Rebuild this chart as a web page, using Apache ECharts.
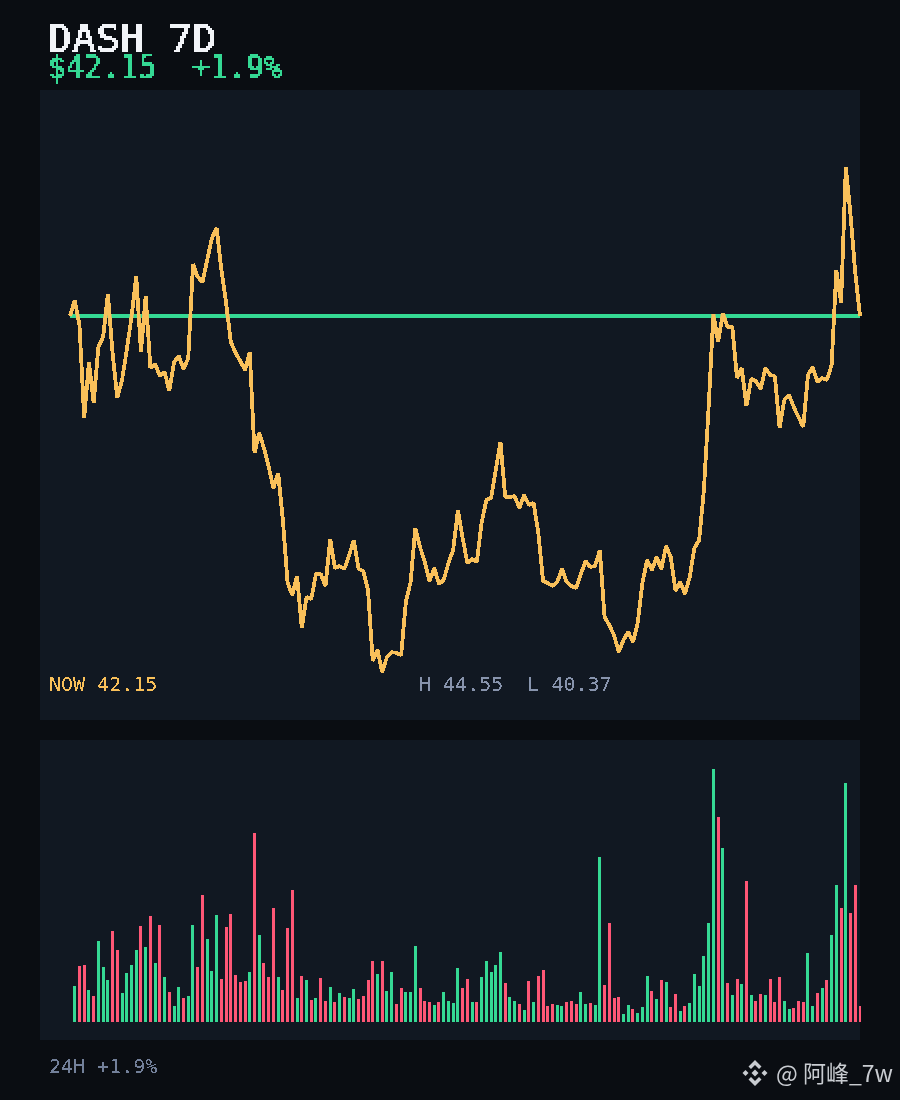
<!DOCTYPE html>
<html><head><meta charset="utf-8">
<script src="https://cdn.jsdelivr.net/npm/echarts@6/dist/echarts.min.js"></script>
<style>
html,body{margin:0;padding:0;background:#0a0d12;width:900px;height:1100px;overflow:hidden}
.layer{position:absolute;left:0;top:0;width:900px;height:1100px}
#crisp{filter:url(#hard)}
#big{filter:url(#bold)}
#big canvas{image-rendering:pixelated}
</style></head><body>
<svg width="0" height="0" style="position:absolute"><filter id="hard" color-interpolation-filters="sRGB" x="0" y="0" width="100%" height="100%"><feComponentTransfer><feFuncA type="discrete" tableValues="0 1"/></feComponentTransfer></filter><filter id="bold" color-interpolation-filters="sRGB" x="0" y="0" width="100%" height="100%"><feComponentTransfer><feFuncA type="discrete" tableValues="0 1 1"/></feComponentTransfer></filter></svg>
<div id="base" class="layer"></div>
<div id="crisp" class="layer"></div>
<div id="big" class="layer"></div>
<script>
const titleText = 'DASH 7D';
const priceText = '$42.15';
const changeText = '+1.9%';
const nowText = 'NOW 42.15';
const rangeText = 'H 44.55  L 40.37';
const footerText = '24H +1.9%';
const watermarkText = '@ 阿峰_7w';
const hours = Array.from({length:168},(_,i)=>String(i));
const prices = [
43.84,44.00,43.75,42.82,43.38,42.97,43.53,43.63,44.06,43.47,
43.02,43.20,43.50,43.83,44.24,43.48,44.04,43.32,43.36,43.24,
43.28,43.09,43.38,43.44,43.31,43.42,44.36,44.23,44.18,44.40,
44.62,44.72,44.30,43.97,43.58,43.47,43.39,43.30,43.48,42.47,
42.67,42.52,42.33,42.12,42.27,41.80,41.17,41.05,41.24,40.72,
41.03,41.01,41.26,41.26,41.14,41.61,41.32,41.34,41.31,41.45,
41.60,41.31,41.29,41.10,40.39,40.50,40.28,40.43,40.48,40.47,
40.45,40.98,41.18,41.72,41.53,41.38,41.19,41.32,41.16,41.20,
41.37,41.50,41.90,41.62,41.37,41.41,41.38,41.77,42.00,42.02,
42.30,42.58,42.03,42.03,42.04,41.92,42.05,41.95,41.97,41.67,
41.19,41.17,41.14,41.18,41.31,41.18,41.14,41.12,41.26,41.39,
41.33,41.34,41.50,40.83,40.75,40.65,40.48,40.60,40.68,40.58,
40.77,41.17,41.40,41.30,41.43,41.31,41.54,41.43,41.09,41.18,
41.06,41.23,41.52,41.60,42.10,42.93,43.86,43.58,43.87,43.73,
43.73,43.22,43.32,42.94,43.21,43.19,43.11,43.32,43.25,43.24,
42.72,43.00,43.05,42.93,42.83,42.73,43.25,43.33,43.18,43.22,
43.20,43.35,44.30,43.97,45.33,44.85,44.27,43.84];
const referencePrice = 43.84;
const volumes = [
36,56,57,32,26,81,55,42,91,72,
29,49,57,72,96,75,106,59,97,45,
30,16,35,24,26,97,55,127,83,51,
107,43,95,108,47,40,41,50,189,87,
59,45,114,45,32,94,132,24,46,42,
22,24,44,21,35,20,29,25,24,33,
23,26,42,61,48,61,31,50,18,34,
30,30,76,34,21,20,17,20,30,21,
19,54,34,43,20,20,45,61,50,57,
70,39,25,21,18,12,41,20,46,52,
16,18,17,16,20,21,18,30,18,19,
17,165,37,99,24,25,8,17,13,9,
15,46,31,23,42,40,15,28,11,16,
19,48,36,66,99,253,205,174,39,27,
43,38,141,27,21,28,27,43,20,45,
21,13,14,21,20,69,16,29,34,42,
87,137,114,239,109,137,16];
const volumeUp = [
1,0,0,1,0,1,1,1,0,0,
1,1,1,1,0,1,0,1,0,1,
0,1,1,0,1,1,0,0,1,1,
1,0,0,0,0,0,0,1,0,1,
0,0,0,1,0,0,0,1,0,1,
0,1,0,0,1,0,1,0,1,1,
0,0,0,0,1,0,1,1,0,0,
1,1,1,0,0,0,1,0,1,1,
1,1,0,0,1,0,1,1,1,1,
1,0,1,1,0,1,0,1,0,0,
0,0,1,1,0,0,0,1,1,0,
1,1,0,0,0,0,1,1,0,1,
1,1,0,1,0,1,0,0,1,0,
1,1,1,1,1,1,0,1,0,1,
0,1,0,1,0,0,1,0,0,0,
1,1,0,0,0,1,1,0,1,0,
1,1,0,1,0,0,0];
const C = {bg:'#0a0d12',panel:'#111822',line:'#f9c05a',green:'#35d994',red:'#ff5776',white:'#f2f4f8',gray:'#8894ad',foot:'#73809a',mark:'#c9ccd1'};
const mono = '"DejaVu Sans Mono", monospace';
const txt = (text,x,y,size,fill)=>({type:'text',x,y,style:{text,fill,font:`${size}px ${mono}`,textVerticalAlign:'middle'}});
const diamond=(cx,cy,r)=>({type:'polygon',shape:{points:[[cx,cy-r],[cx+r,cy],[cx,cy+r],[cx-r,cy]]},style:{fill:C.mark}});

const base = echarts.init(document.getElementById('base'));
base.setOption({animation:false,backgroundColor:C.bg,graphic:[
 {type:'rect',shape:{x:40,y:90,width:820,height:630},style:{fill:C.panel}},
 {type:'rect',shape:{x:40,y:740,width:820,height:300},style:{fill:C.panel}},
 diamond(755,1073,3.5),diamond(745.5,1073,3),diamond(764.5,1073,3),
 {type:'polygon',shape:{points:[[755,1060],[761.5,1066.5],[759,1069],[755,1065],[751,1069],[748.5,1066.5]]},style:{fill:C.mark}},
 {type:'polygon',shape:{points:[[755,1086],[761.5,1079.5],[759,1077],[755,1081],[751,1077],[748.5,1079.5]]},style:{fill:C.mark}},
 {type:'text',x:776,y:1073,style:{text:watermarkText,fill:C.mark,font:'23px "Noto Sans CJK SC", "Noto Sans", sans-serif',textVerticalAlign:'middle'}}
]});

const crisp = echarts.init(document.getElementById('crisp'));
crisp.setOption({animation:false,backgroundColor:'transparent',
 grid:[{left:70,width:790,top:90,height:630},{left:70,width:790,top:740,height:282}],
 xAxis:[{type:'category',gridIndex:0,data:hours,boundaryGap:false,show:false},{type:'category',gridIndex:1,data:hours,boundaryGap:false,show:false}],
 yAxis:[{type:'value',gridIndex:0,min:39.8,max:46.1,show:false},{type:'value',gridIndex:1,min:0,max:282,show:false}],
 series:[
  {type:'line',xAxisIndex:0,yAxisIndex:0,data:hours.map(()=>referencePrice),showSymbol:false,z:2,lineStyle:{color:C.green,width:3},silent:true},
  {type:'line',xAxisIndex:0,yAxisIndex:0,data:prices,showSymbol:false,z:3,lineStyle:{color:C.line,width:3.8,join:'bevel'},silent:true},
  {type:'bar',xAxisIndex:1,yAxisIndex:1,barWidth:3,clip:false,silent:true,
   data:[null].concat(volumes.map((v,i)=>({value:v,itemStyle:{color:volumeUp[i]?C.green:C.red}})))}
 ],
 graphic:[txt(nowText,49,686,20,C.line),txt(rangeText,419,686,20,C.gray),txt(footerText,49,1068,20,C.foot)]
});

const big = echarts.init(document.getElementById('big'),null,{devicePixelRatio:0.5});
big.setOption({animation:false,backgroundColor:'transparent',graphic:[
 txt(titleText,48,42,40,C.white),
 txt(priceText,48,71,30,C.green),
 txt(changeText,192,71,30,C.green)
]});
</script></body></html>
